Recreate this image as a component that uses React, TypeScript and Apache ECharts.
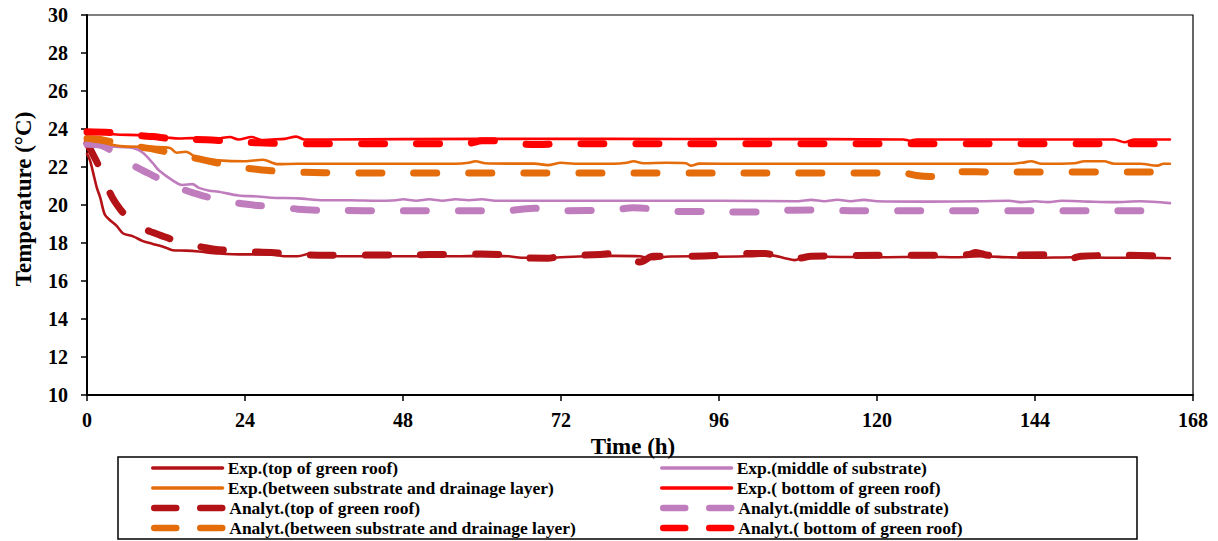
import React, { useEffect, useRef } from "react";
import * as echarts from "echarts";

// Time ticks and temperature ticks
const xTicks = [0, 24, 48, 72, 96, 120, 144, 168];
const yTicks = [10, 12, 14, 16, 18, 20, 22, 24, 26, 28, 30];

const names = {
  expTop: "Exp.(top of green roof)",
  expMid: "Exp.(middle of substrate)",
  expBetween: "Exp.(between substrate and drainage layer)",
  expBottom: "Exp.( bottom of green roof)",
  anTop: "Analyt.(top of green roof)",
  anMid: "Analyt.(middle of substrate)",
  anBetween: "Analyt.(between substrate and drainage layer)",
  anBottom: "Analyt.( bottom of green roof)",
};

// [time (h), temperature (°C)]
const expTop = [
  [0, 22.7], [0.5, 22.3], [1, 21.6], [1.5, 20.9], [2, 20.4], [2.7, 19.5], [3.5, 19.2], [4.5, 18.9],
  [5.5, 18.5], [7, 18.35], [8.5, 18.1], [10, 17.95], [12, 17.75], [13, 17.62], [15, 17.6], [17, 17.55],
  [20, 17.45], [24, 17.4], [28, 17.4], [30, 17.3], [32, 17.3], [34, 17.45], [36, 17.3], [40, 17.3],
  [48, 17.3], [56, 17.3], [60, 17.32], [64, 17.3], [66, 17.22], [70, 17.22], [72, 17.25], [76, 17.3],
  [80, 17.32], [84, 17.3], [86, 17.15], [88, 17.28], [92, 17.3], [96, 17.28], [100, 17.3], [104, 17.35],
  [106, 17.2], [107.5, 17.1], [109, 17.25], [112, 17.28], [120, 17.25], [128, 17.28], [132, 17.25],
  [136, 17.3], [140, 17.25], [144, 17.22], [150, 17.25], [156, 17.22], [160, 17.22], [164.5, 17.2],
];
const anTop = [
  [0, 23.25], [1, 22.6], [2, 21.9], [3, 21.0], [4, 20.3], [5, 19.8], [6, 19.4], [8, 18.85], [10, 18.55],
  [12, 18.3], [14, 18.05], [16, 17.9], [18, 17.75], [20, 17.65], [24, 17.55], [28, 17.5], [32, 17.4],
  [36, 17.35], [48, 17.38], [56, 17.4], [60, 17.42], [64, 17.35], [66, 17.22], [70, 17.2], [72, 17.3],
  [78, 17.4], [80, 17.45], [82, 17.3], [84, 17.0], [86, 17.3], [90, 17.3], [96, 17.35], [99, 17.45],
  [103, 17.45], [106, 17.2], [108, 17.2], [110, 17.3], [120, 17.35], [130, 17.35], [134, 17.4],
  [135, 17.5], [137, 17.35], [146, 17.38], [148, 17.3], [149, 17.15], [151, 17.3], [158, 17.35], [164.5, 17.3],
];
const expMid = [
  [0, 23.3], [1, 23.2], [3, 23.1], [5, 23.05], [7, 23.0], [8.5, 22.75], [10, 22.2], [11, 21.8], [13, 21.3],
  [14.5, 21.05], [16, 21.1], [17, 20.9], [18.6, 20.75], [20, 20.7], [23, 20.5], [26, 20.45], [28, 20.38],
  [32, 20.35], [36, 20.25], [40, 20.25], [44, 20.22], [47, 20.25], [48, 20.3], [50, 20.22], [52, 20.3],
  [54, 20.22], [56, 20.3], [58, 20.25], [60, 20.3], [62, 20.22], [64, 20.22], [80, 20.22], [96, 20.22],
  [108, 20.2], [110, 20.27], [112, 20.2], [114, 20.28], [116, 20.2], [118, 20.27], [120, 20.2], [128, 20.18],
  [136, 20.2], [140, 20.22], [142, 20.15], [144, 20.2], [146, 20.15], [148, 20.22], [152, 20.18],
  [156, 20.15], [160, 20.2], [164.5, 20.1],
];
const anMid = [
  [0, 23.2], [2, 23.15], [4, 22.8], [6, 22.3], [8, 21.9], [10, 21.55], [12, 21.2], [14, 20.9], [16, 20.65],
  [18, 20.45], [20, 20.25], [22, 20.15], [24, 20.05], [26, 19.97], [30, 19.88], [32, 19.78], [36, 19.72],
  [48, 19.7], [60, 19.7], [64, 19.7], [66, 19.78], [68, 19.83], [72, 19.7], [80, 19.75], [83, 19.85],
  [85, 19.82], [88, 19.7], [90, 19.66], [94, 19.66], [98, 19.63], [102, 19.63], [106, 19.72], [111, 19.74],
  [116, 19.7], [164.5, 19.7],
];
const expBetween = [
  [0, 23.4], [2, 23.3], [5, 23.1], [10, 23.05], [12.6, 23.0], [13.6, 22.75], [15, 22.8], [16.7, 22.5],
  [20, 22.35], [24, 22.3], [26.7, 22.38], [29, 22.15], [32, 22.17], [40, 22.17], [56, 22.17], [58, 22.22],
  [59, 22.3], [60.5, 22.2], [64, 22.18], [68, 22.18], [70, 22.1], [72, 22.22], [74, 22.17], [80, 22.17],
  [82, 22.22], [83, 22.3], [84.5, 22.2], [88, 22.22], [91, 22.2], [91.7, 22.07], [93, 22.18], [100, 22.17],
  [120, 22.17], [140, 22.17], [142, 22.22], [143.4, 22.3], [145, 22.17], [150, 22.2], [151.5, 22.3],
  [154.5, 22.3], [156, 22.17], [160, 22.17], [162.6, 22.07], [163.5, 22.17], [164.5, 22.17],
];
const anBetween = [
  [0, 23.5], [2, 23.45], [4, 23.3], [6, 23.15], [8, 23.05], [10, 22.95], [12, 22.8], [14, 22.65],
  [16, 22.5], [18, 22.35], [20, 22.2], [22, 22.05], [24, 21.95], [26, 21.87], [28, 21.8], [30, 21.75],
  [36, 21.7], [48, 21.68], [100, 21.68], [124, 21.68], [126, 21.55], [128, 21.5], [129, 21.52],
  [130, 21.75], [140, 21.74], [164.5, 21.74],
];
const expBottom = [
  [0, 23.9], [1, 23.85], [3, 23.75], [5, 23.7], [8, 23.68], [10, 23.6], [12, 23.55], [14, 23.5],
  [16, 23.52], [18, 23.45], [20, 23.5], [21.7, 23.58], [23, 23.45], [25, 23.58], [26.5, 23.42],
  [28, 23.45], [30, 23.48], [31.8, 23.6], [33, 23.45], [36, 23.45], [60, 23.48], [80, 23.48],
  [100, 23.47], [124, 23.45], [125, 23.38], [126, 23.45], [156, 23.45], [157.6, 23.3], [159, 23.45],
  [164.5, 23.45],
];
const anBottom = [
  [0, 23.85], [4, 23.8], [6, 23.7], [8, 23.65], [10, 23.6], [12, 23.52], [14, 23.45], [16, 23.45],
  [20, 23.4], [24, 23.3], [28, 23.25], [32, 23.22], [48, 23.22], [58, 23.25], [60, 23.38], [63, 23.38],
  [65, 23.25], [68, 23.18], [72, 23.22], [164.5, 23.22],
];

const C_TOP = "#B31217";
const C_MID = "#C07DBE";
const C_BETWEEN = "#E46C0A";
const C_BOTTOM = "#FF0000";

const FONT = "Liberation Serif";

export default function App() {
  const ref = useRef<HTMLDivElement>(null);

  useEffect(() => {
    if (!ref.current) return;
    const chart = echarts.init(ref.current, undefined, { renderer: "svg" });

    const solid = (name: string, data: number[][], color: string) => ({
      name,
      type: "line",
      data,
      symbol: "none",
      smooth: 0.3,
      lineStyle: { color, width: 2.6, cap: "round", join: "round" },
      itemStyle: { color },
      z: 3,
    });
    const dashed = (name: string, data: number[][], color: string) => ({
      name,
      type: "line",
      data,
      symbol: "none",
      smooth: 0.3,
      lineStyle: { color, width: 7, type: [23, 32], cap: "round", join: "round" },
      itemStyle: { color },
      z: 2,
    });

    const legendText = { fontFamily: FONT, fontWeight: 700, fontSize: 17.5, color: "#000" };
    const rowCenters = [468, 488, 508, 528];
    const legendItem = (name: string, left: number, row: number, isDashed: boolean) => ({
      orient: "vertical",
      left,
      top: rowCenters[row] - 9,
      padding: 0,
      itemWidth: 70,
      itemHeight: 18,
      itemGap: 0,
      textStyle: legendText,
      itemStyle: { opacity: 0, color: "transparent", borderWidth: 0 },
      lineStyle: isDashed
        ? { width: 6.5, type: [22, 24], cap: "round" }
        : { width: 3.3, type: "solid", cap: "round" },
      data: [name],
    });

    chart.setOption({
      animation: false,
      grid: {
        left: 87,
        right: 25,
        top: 15,
        bottom: 146,
        show: true,
        borderColor: "#000",
        borderWidth: 1.2,
      },
      xAxis: {
        type: "value",
        min: xTicks[0],
        max: xTicks[xTicks.length - 1],
        interval: 24,
        name: "Time (h)",
        nameLocation: "middle",
        nameGap: 37,
        nameTextStyle: {
          fontFamily: FONT,
          fontWeight: 700,
          fontSize: 23,
          color: "#000",
          padding: [0, 14, 0, 0],
        },
        axisLine: { show: true, lineStyle: { color: "#000", width: 2 } },
        axisTick: { show: true, inside: false, length: 6, lineStyle: { color: "#000", width: 1.5 } },
        axisLabel: { fontFamily: FONT, fontWeight: 700, fontSize: 20, color: "#000", margin: 15 },
        splitLine: { show: false },
      },
      yAxis: {
        type: "value",
        min: yTicks[0],
        max: yTicks[yTicks.length - 1],
        interval: 2,
        name: "Temperature (°C)",
        nameLocation: "middle",
        nameGap: 52,
        nameTextStyle: {
          fontFamily: FONT,
          fontWeight: 700,
          fontSize: 23,
          color: "#000",
          padding: [0, 0, 0, 12],
        },
        axisLine: { show: true, lineStyle: { color: "#000", width: 2 } },
        axisTick: { show: true, inside: false, length: 6, lineStyle: { color: "#000", width: 1.5 } },
        axisLabel: { fontFamily: FONT, fontWeight: 700, fontSize: 20, color: "#000", margin: 19 },
        splitLine: { show: false },
      },
      legend: [
        legendItem(names.expTop, 151, 0, false),
        legendItem(names.expBetween, 151, 1, false),
        legendItem(names.anTop, 151, 2, true),
        legendItem(names.anBetween, 151, 3, true),
        legendItem(names.expMid, 660, 0, false),
        legendItem(names.expBottom, 660, 1, false),
        legendItem(names.anMid, 660, 2, true),
        legendItem(names.anBottom, 660, 3, true),
      ],
      graphic: [
        {
          type: "rect",
          shape: { x: 118, y: 457, width: 1019, height: 82 },
          style: { fill: "none", stroke: "#000", lineWidth: 1.5 },
          silent: true,
        },
      ],
      series: [
        dashed(names.anTop, anTop, C_TOP),
        dashed(names.anMid, anMid, C_MID),
        dashed(names.anBetween, anBetween, C_BETWEEN),
        dashed(names.anBottom, anBottom, C_BOTTOM),
        solid(names.expTop, expTop, C_TOP),
        solid(names.expMid, expMid, C_MID),
        solid(names.expBetween, expBetween, C_BETWEEN),
        solid(names.expBottom, expBottom, C_BOTTOM),
      ],
    });

    return () => chart.dispose();
  }, []);

  return (
    <div
      ref={ref}
      style={{ position: "fixed", left: 0, top: 0, width: 1218, height: 541, background: "#fff" }}
    />
  );
}
